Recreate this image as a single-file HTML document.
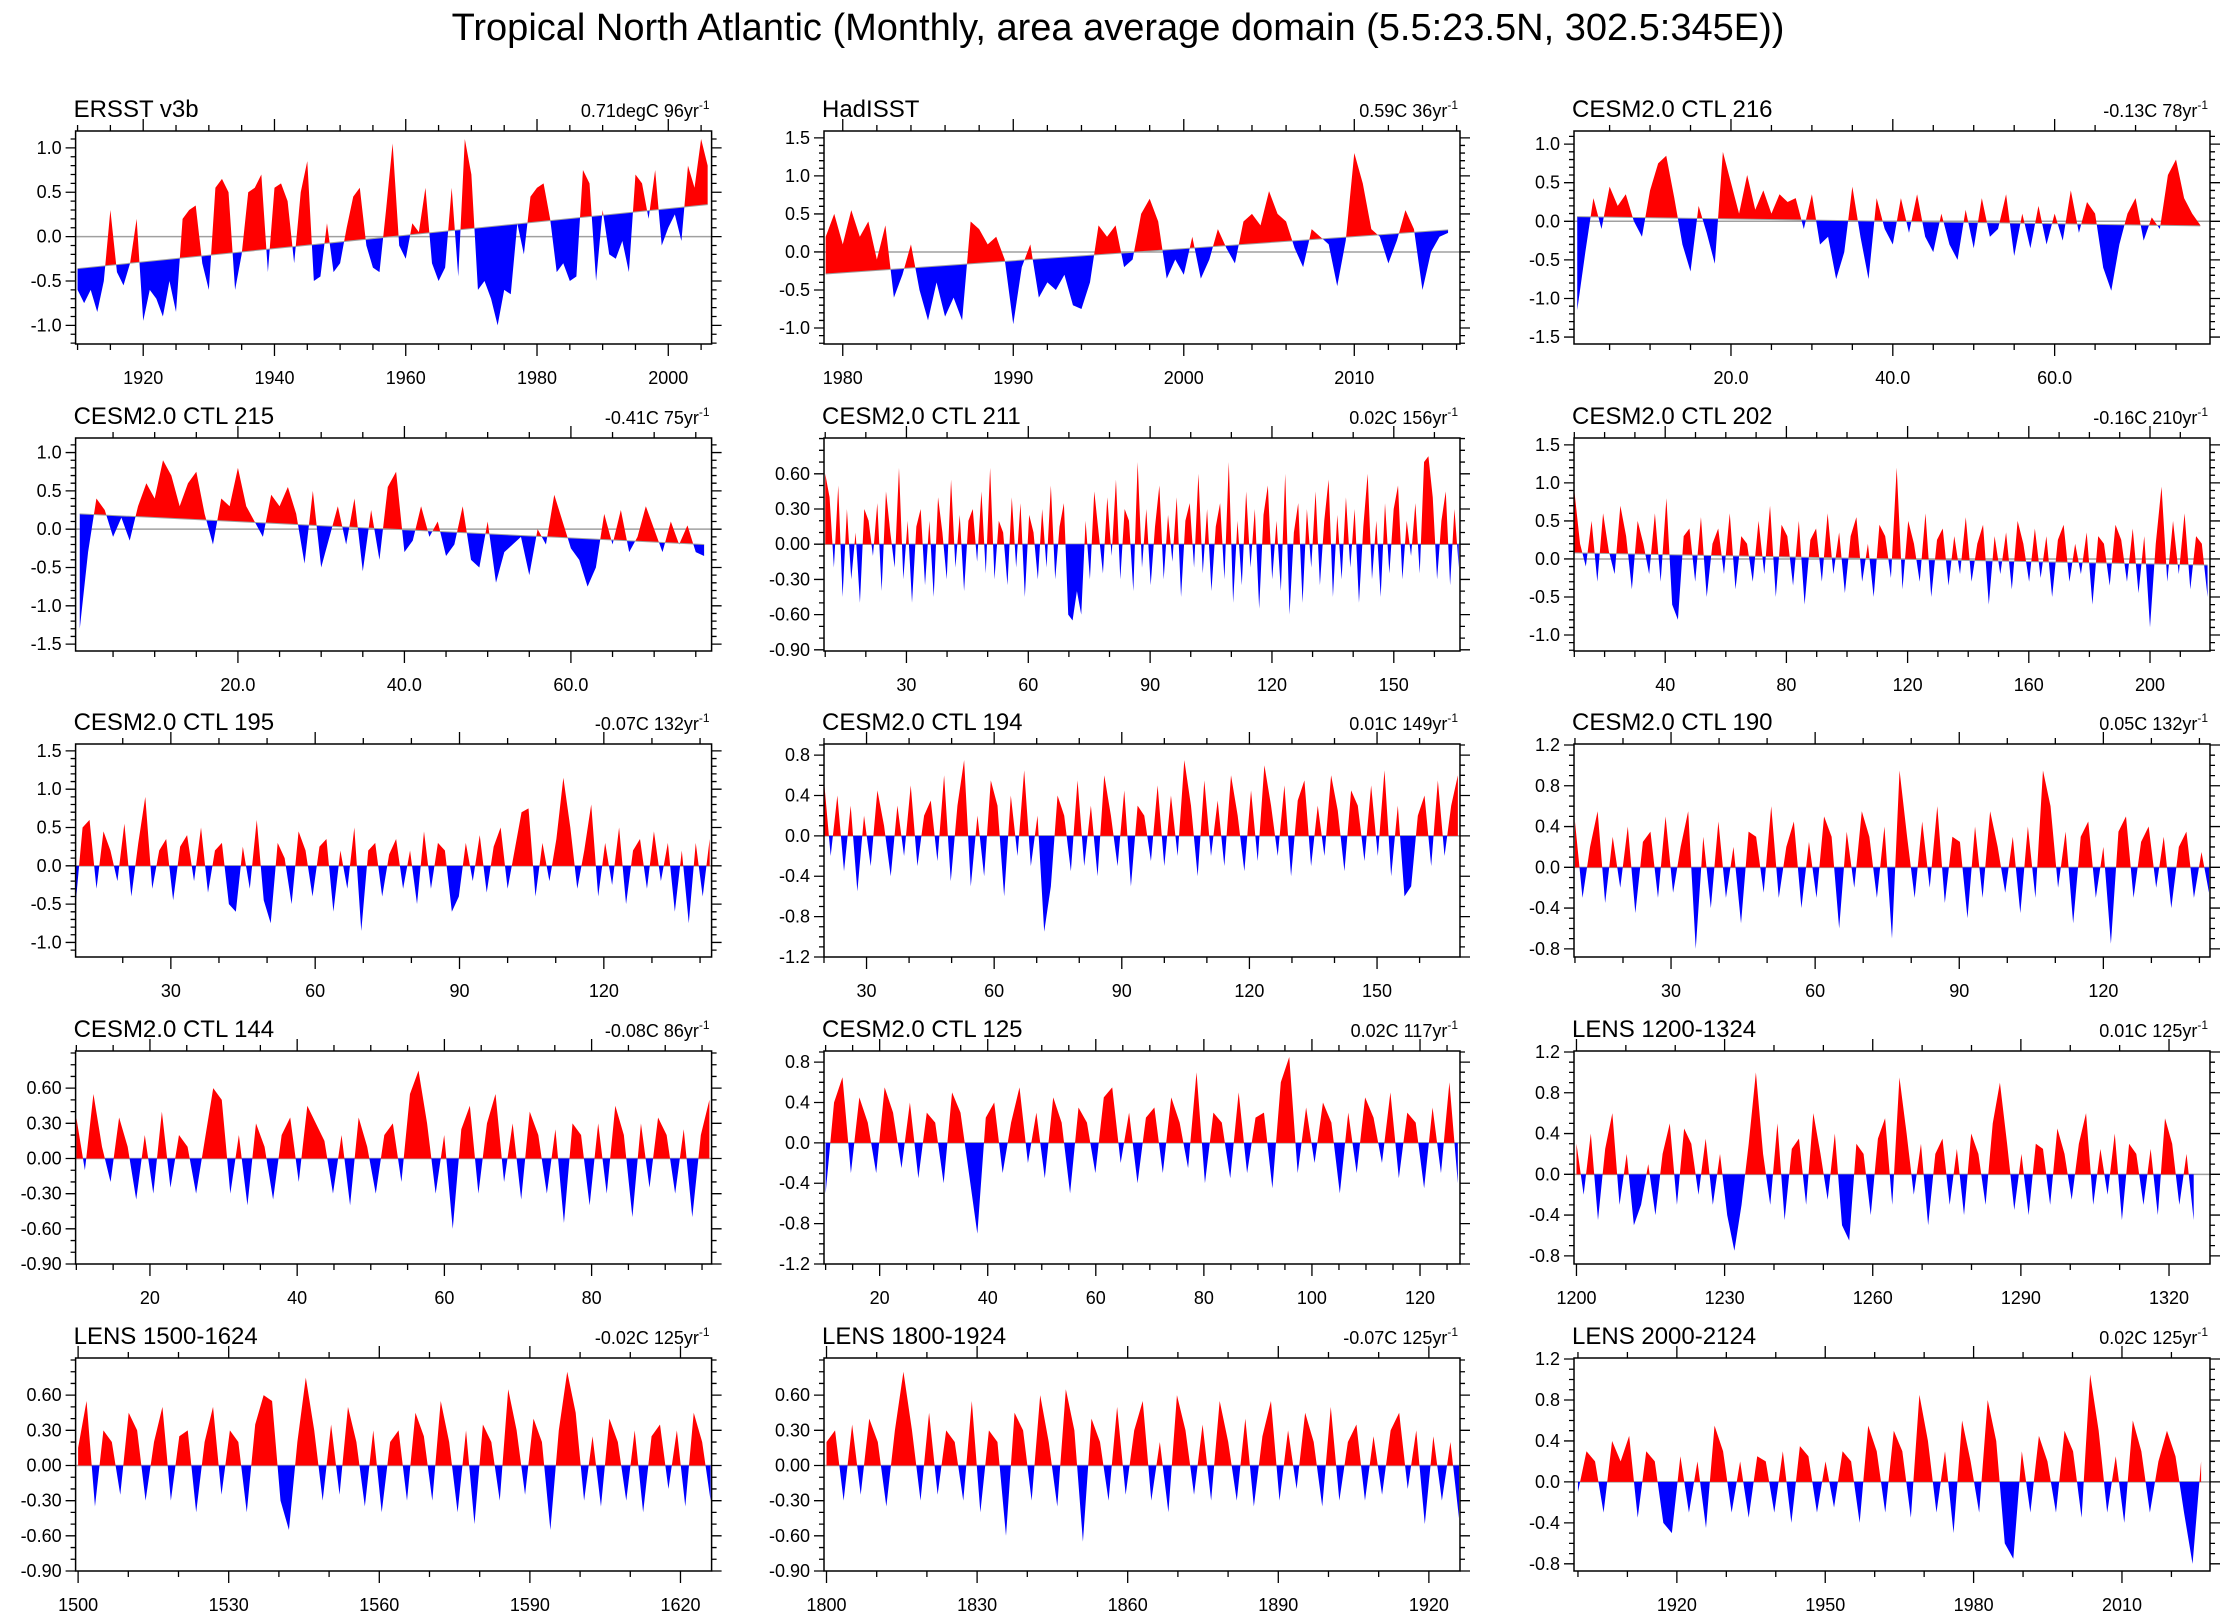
<!DOCTYPE html>
<html><head><meta charset="utf-8">
<style>
html,body{margin:0;padding:0;background:#fff;}
svg{display:block;font-family:"Liberation Sans",Arial,sans-serif;}
</style></head>
<body>
<svg id="fig" width="2236" height="1620" viewBox="0 0 2236 1620">
<text x="1118" y="40" text-anchor="middle" font-size="38">Tropical North Atlantic (Monthly, area average domain (5.5:23.5N, 302.5:345E))</text>
</svg>
<script>
// ---- data: values per panel ----
const p1Values=[-0.6,-0.75,-0.6,-0.85,-0.5,0.3,-0.4,-0.55,-0.3,0.2,-0.95,-0.6,-0.7,-0.9,-0.5,-0.85,0.2,0.3,0.35,-0.3,-0.6,0.55,0.65,0.5,-0.6,-0.2,0.5,0.55,0.7,-0.4,0.55,0.6,0.4,-0.3,0.5,0.85,-0.5,-0.45,0.15,-0.4,-0.3,0.1,0.45,0.55,-0.1,-0.35,-0.4,0.3,1.05,-0.1,-0.25,0.15,0.05,0.55,-0.3,-0.5,-0.35,0.55,-0.45,1.1,0.7,-0.6,-0.5,-0.7,-1.0,-0.6,-0.65,0.15,-0.2,0.45,0.55,0.6,0.2,-0.4,-0.3,-0.5,-0.45,0.75,0.6,-0.5,0.3,-0.2,-0.25,-0.05,-0.4,0.7,0.6,0.2,0.75,-0.1,0.1,0.25,-0.05,0.8,0.55,1.1,0.8];
const p2Values=[0.2,0.5,0.1,0.55,0.2,0.4,-0.1,0.35,-0.6,-0.3,0.1,-0.5,-0.9,-0.4,-0.85,-0.6,-0.9,0.4,0.3,0.1,0.2,-0.1,-0.95,-0.2,0.1,-0.6,-0.4,-0.5,-0.3,-0.7,-0.75,-0.4,0.35,0.2,0.35,-0.2,-0.1,0.5,0.7,0.4,-0.35,-0.1,-0.3,0.2,-0.35,-0.1,0.3,0.05,-0.15,0.4,0.5,0.35,0.8,0.5,0.4,0.05,-0.2,0.3,0.2,0.1,-0.45,0.15,1.3,0.9,0.3,0.2,-0.15,0.15,0.55,0.3,-0.5,0.0,0.2,0.25];
const p3Values=[-1.15,-0.4,0.3,-0.1,0.45,0.2,0.35,0.0,-0.2,0.4,0.75,0.85,0.3,-0.3,-0.65,0.2,-0.15,-0.55,0.9,0.5,0.1,0.6,0.15,0.4,0.1,0.35,0.25,0.3,-0.1,0.35,-0.3,-0.2,-0.75,-0.4,0.45,-0.2,-0.75,0.3,-0.1,-0.3,0.3,-0.15,0.35,-0.2,-0.4,0.1,-0.3,-0.5,0.15,-0.35,0.3,-0.2,-0.1,0.35,-0.45,0.1,-0.35,0.2,-0.3,0.1,-0.25,0.4,-0.15,0.25,0.1,-0.6,-0.9,-0.3,0.1,0.3,-0.25,0.05,-0.1,0.6,0.8,0.3,0.1,-0.05];
const p4Values=[-1.3,-0.3,0.4,0.25,-0.1,0.15,-0.15,0.3,0.6,0.4,0.9,0.7,0.3,0.6,0.75,0.2,-0.2,0.4,0.3,0.8,0.3,0.1,-0.1,0.45,0.3,0.55,0.2,-0.45,0.5,-0.5,-0.1,0.3,-0.2,0.4,-0.55,0.25,-0.4,0.55,0.75,-0.3,-0.15,0.3,-0.1,0.1,-0.35,-0.2,0.3,-0.4,-0.5,0.1,-0.7,-0.3,-0.2,-0.1,-0.6,0.0,-0.2,0.45,0.1,-0.25,-0.4,-0.75,-0.5,0.2,-0.2,0.25,-0.3,-0.1,0.3,0.0,-0.3,0.1,-0.2,0.05,-0.3,-0.35];
const p5Values=[0.6,0.4,-0.2,0.5,-0.45,0.3,-0.3,0.1,-0.5,0.3,0.2,-0.1,0.35,-0.4,0.45,0.1,-0.2,0.65,-0.3,0.2,-0.5,0.15,0.3,-0.35,0.2,-0.45,0.4,0.1,-0.3,0.55,-0.2,0.25,-0.4,0.2,0.3,-0.15,0.45,-0.25,0.65,-0.3,0.2,0.1,-0.35,0.4,-0.2,0.35,-0.45,0.25,0.1,-0.3,0.3,-0.2,0.5,-0.3,0.15,0.35,-0.6,-0.65,-0.4,-0.6,0.2,-0.3,0.45,0.1,-0.25,0.4,-0.1,0.55,-0.3,0.3,0.2,-0.4,0.7,-0.2,0.3,-0.35,0.15,0.5,-0.3,0.25,-0.15,0.4,-0.45,0.2,0.35,-0.2,0.6,-0.25,0.3,-0.4,0.15,0.35,-0.3,0.7,-0.5,0.2,-0.35,0.45,-0.2,0.3,-0.55,0.25,0.5,-0.3,0.2,-0.4,0.6,-0.6,0.1,0.35,-0.5,0.3,-0.2,0.45,-0.35,0.2,0.55,-0.45,0.25,-0.3,0.4,-0.2,0.3,-0.5,0.15,0.6,-0.3,0.2,-0.45,0.35,-0.25,0.3,0.5,-0.3,0.2,-0.1,0.35,-0.25,0.7,0.75,0.4,-0.3,0.2,0.45,-0.35,0.3,-0.2];
const p6Values=[0.9,0.2,-0.1,0.5,-0.3,0.6,0.1,-0.2,0.7,0.3,-0.4,0.5,0.2,-0.2,0.6,-0.3,0.8,-0.6,-0.8,0.3,0.4,-0.3,0.55,-0.5,0.2,0.4,-0.2,0.6,-0.4,0.3,0.2,-0.3,0.5,-0.2,0.7,-0.5,0.45,0.3,-0.35,0.5,-0.6,0.25,0.4,-0.3,0.6,-0.2,0.35,-0.45,0.3,0.55,-0.3,0.2,-0.5,0.45,0.3,-0.25,1.2,-0.4,0.5,0.2,-0.3,0.6,-0.5,0.25,0.4,-0.35,0.3,-0.2,0.55,-0.3,0.2,0.45,-0.6,0.3,-0.2,0.35,-0.4,0.5,0.2,-0.3,0.4,-0.25,0.3,-0.5,0.25,0.45,-0.3,0.2,-0.2,0.35,-0.6,0.3,0.2,-0.35,0.45,0.25,-0.3,0.4,-0.45,0.3,-0.9,0.2,0.95,-0.3,0.5,-0.2,0.6,-0.4,0.3,0.2,-0.5];
const p7Values=[-0.5,0.5,0.6,-0.3,0.45,0.2,-0.2,0.55,-0.4,0.3,0.9,-0.3,0.2,0.35,-0.45,0.25,0.4,-0.2,0.5,-0.35,0.2,0.3,-0.5,-0.6,0.25,-0.3,0.6,-0.45,-0.75,0.3,0.1,-0.5,0.45,0.2,-0.4,0.25,0.35,-0.6,0.2,-0.3,0.5,-0.85,0.2,0.3,-0.4,0.15,0.35,-0.3,0.2,-0.5,0.45,-0.3,0.3,0.2,-0.6,-0.4,0.3,-0.2,0.4,-0.35,0.25,0.5,-0.3,0.2,0.7,0.75,-0.4,0.3,-0.2,0.35,1.15,0.5,-0.3,0.2,0.8,-0.4,0.3,-0.25,0.5,-0.5,0.2,0.35,-0.3,0.45,-0.2,0.3,-0.6,0.2,-0.75,0.3,-0.4,0.35];
const p8Values=[0.55,-0.2,0.4,-0.35,0.3,-0.55,0.2,-0.3,0.45,0.1,-0.4,0.3,-0.2,0.5,-0.3,0.2,0.35,-0.25,0.6,-0.45,0.3,0.75,-0.5,0.2,-0.4,0.55,0.3,-0.6,0.4,-0.2,0.65,-0.3,0.2,-0.95,-0.5,0.4,0.2,-0.35,0.55,-0.3,0.3,-0.4,0.6,0.2,-0.3,0.45,-0.5,0.3,0.2,-0.25,0.5,-0.3,0.4,-0.2,0.75,0.3,-0.4,0.55,-0.2,0.35,-0.3,0.6,0.2,-0.35,0.45,-0.25,0.7,0.3,-0.2,0.5,-0.4,0.35,0.55,-0.3,0.3,-0.2,0.6,0.25,-0.35,0.45,0.3,-0.25,0.5,-0.2,0.65,-0.4,0.3,-0.6,-0.5,0.2,0.4,-0.3,0.55,-0.2,0.3,0.6];
const p9Values=[0.45,-0.3,0.2,0.55,-0.35,0.3,-0.2,0.4,-0.45,0.25,0.35,-0.3,0.5,-0.25,0.2,0.55,-0.8,0.3,-0.4,0.45,-0.3,0.2,-0.55,0.35,0.3,-0.25,0.6,-0.3,0.2,0.45,-0.4,0.25,-0.3,0.5,0.3,-0.6,0.35,-0.2,0.55,0.3,-0.3,0.4,-0.7,0.95,0.3,-0.3,0.45,-0.2,0.6,-0.35,0.3,0.25,-0.5,0.4,-0.3,0.55,0.2,-0.25,0.3,-0.45,0.4,-0.3,0.95,0.6,-0.2,0.35,-0.55,0.3,0.45,-0.3,0.2,-0.75,0.35,0.5,-0.3,0.25,0.4,-0.2,0.3,-0.4,0.2,0.35,-0.3,0.15,-0.25];
const p10Values=[0.35,-0.1,0.55,0.1,-0.2,0.35,0.1,-0.35,0.2,-0.3,0.4,-0.25,0.2,0.1,-0.3,0.15,0.6,0.5,-0.3,0.2,-0.4,0.3,0.1,-0.35,0.2,0.35,-0.2,0.45,0.3,0.15,-0.3,0.2,-0.4,0.35,0.1,-0.3,0.2,0.3,-0.2,0.55,0.75,0.3,-0.3,0.2,-0.6,0.25,0.45,-0.3,0.3,0.55,-0.2,0.3,-0.35,0.4,0.2,-0.3,0.25,-0.55,0.3,0.2,-0.4,0.3,-0.3,0.45,0.2,-0.5,0.3,-0.25,0.35,0.2,-0.3,0.25,-0.5,0.2,0.5];
const p11Values=[-0.5,0.4,0.65,-0.3,0.45,0.2,-0.3,0.55,0.3,-0.25,0.4,-0.35,0.3,0.2,-0.4,0.5,0.3,-0.3,-0.9,0.25,0.4,-0.3,0.2,0.55,-0.2,0.3,-0.35,0.45,0.2,-0.5,0.35,0.2,-0.3,0.45,0.55,-0.2,0.3,-0.4,0.25,0.35,-0.3,0.45,0.2,-0.25,0.7,-0.4,0.3,0.2,-0.35,0.5,-0.3,0.25,0.3,-0.45,0.6,0.85,-0.3,0.35,-0.2,0.4,0.2,-0.5,0.3,-0.3,0.45,0.25,-0.2,0.5,-0.35,0.3,0.2,-0.45,0.35,-0.3,0.6,-0.4];
const p12Values=[0.3,-0.2,0.4,-0.45,0.25,0.6,-0.3,0.2,-0.5,-0.3,0.1,-0.4,0.2,0.5,-0.3,0.45,0.3,-0.2,0.35,-0.3,0.2,-0.4,-0.75,-0.3,0.3,1.0,0.2,-0.3,0.5,-0.45,0.25,0.35,-0.3,0.6,0.2,-0.25,0.4,-0.5,-0.65,0.3,0.2,-0.4,0.35,0.55,-0.3,0.95,0.4,-0.2,0.3,-0.5,0.2,0.35,-0.3,0.25,-0.4,0.4,0.2,-0.3,0.5,0.9,0.3,-0.35,0.2,-0.4,0.3,0.25,-0.3,0.45,0.2,-0.25,0.3,0.6,-0.3,0.25,-0.2,0.4,-0.45,0.3,0.2,-0.3,0.25,-0.4,0.55,0.3,-0.3,0.2,-0.45];
const p13Values=[0.15,0.55,-0.35,0.3,0.2,-0.25,0.45,0.3,-0.3,0.2,0.5,-0.3,0.25,0.3,-0.4,0.2,0.5,-0.25,0.3,0.2,-0.4,0.35,0.6,0.55,-0.3,-0.55,0.2,0.75,0.3,-0.3,0.35,-0.25,0.5,0.2,-0.35,0.3,-0.4,0.2,0.3,-0.3,0.45,0.25,-0.3,0.55,0.2,-0.4,0.3,-0.5,0.35,0.2,-0.3,0.65,0.3,-0.25,0.4,0.2,-0.55,0.3,0.8,0.45,-0.3,0.25,-0.35,0.4,0.2,-0.3,0.3,-0.4,0.25,0.35,-0.2,0.3,-0.35,0.45,0.2,-0.3];
const p14Values=[0.2,0.3,-0.3,0.35,-0.25,0.4,0.2,-0.35,0.3,0.8,0.3,-0.3,0.45,-0.25,0.3,0.2,-0.3,0.55,-0.4,0.3,0.2,-0.6,0.45,0.3,-0.3,0.6,0.2,-0.35,0.65,0.3,-0.65,0.4,0.2,-0.3,0.5,-0.25,0.3,0.55,-0.3,0.2,-0.4,0.6,0.3,-0.25,0.35,-0.3,0.55,0.2,-0.3,0.4,-0.35,0.25,0.55,-0.3,0.3,-0.2,0.45,0.2,-0.35,0.5,-0.3,0.2,0.35,-0.3,0.25,-0.25,0.3,0.45,-0.2,0.3,-0.5,0.25,-0.3,0.2,-0.45];
const p15Values=[-0.1,0.3,0.2,-0.3,0.4,0.2,0.45,-0.35,0.3,0.2,-0.4,-0.5,0.25,-0.3,0.2,-0.45,0.55,0.3,-0.3,0.2,-0.35,0.25,0.2,-0.3,0.3,-0.4,0.35,0.25,-0.3,0.2,-0.25,0.3,0.2,-0.4,0.55,0.3,-0.3,0.5,0.3,-0.35,0.85,0.4,-0.3,0.3,-0.5,0.6,0.2,-0.3,0.8,0.4,-0.6,-0.75,0.3,-0.3,0.45,0.2,-0.3,0.5,0.3,-0.35,1.05,0.5,-0.3,0.25,-0.4,0.6,0.3,-0.3,0.2,0.5,0.25,-0.3,-0.8,0.2];
// time span of each series [first, last]
const seriesSpans=[[1910,2006],[1979,2015.5],[1,78],[1,76],[10,166],[10,219],[10.2,142],[20,169],[10,142],[10,96],[10,127],[1200,1325],[1500,1626],[1800,1926],[1900,2026]];
// trend reference line [start, end]
const trendLines=[[-0.36,0.36],[-0.29,0.29],[0.06,-0.06],[0.2,-0.2],[0,0],[0.08,-0.08],[0,0],[0,0],[0,0],[0,0],[0,0],[0,0],[0,0],[0,0],[0,0]];
const panelTitles=["ERSST v3b","HadISST","CESM2.0 CTL 216","CESM2.0 CTL 215","CESM2.0 CTL 211","CESM2.0 CTL 202","CESM2.0 CTL 195","CESM2.0 CTL 194","CESM2.0 CTL 190","CESM2.0 CTL 144","CESM2.0 CTL 125","LENS 1200-1324","LENS 1500-1624","LENS 1800-1924","LENS 2000-2124"];
const trendLabels=["0.71degC 96yr","0.59C 36yr","-0.13C 78yr","-0.41C 75yr","0.02C 156yr","-0.16C 210yr","-0.07C 132yr","0.01C 149yr","0.05C 132yr","-0.08C 86yr","0.02C 117yr","0.01C 125yr","-0.02C 125yr","-0.07C 125yr","0.02C 125yr"];
const xDomains=[[1909.7,2006.6],[1978.9,2016.2],[0.6,79.2],[0.5,76.9],[9.7,166.3],[9.9,219.8],[10.2,142.4],[20,169.5],[9.8,142.2],[9.9,96.3],[9.7,127.4],[1199.5,1328.3],[1499.5,1626.2],[1799.5,1926.2],[1899.2,2027.8]];
const yDomains=[[-1.21,1.19],[-1.21,1.59],[-1.59,1.17],[-1.59,1.19],[-0.91,0.905],[-1.21,1.59],[-1.19,1.59],[-1.2,0.91],[-0.88,1.21],[-0.9,0.917],[-1.2,0.91],[-0.88,1.21],[-0.9,0.917],[-0.9,0.917],[-0.87,1.21]];
const xTickLabels=[["1920","1940","1960","1980","2000"],["1980","1990","2000","2010"],["20.0","40.0","60.0"],["20.0","40.0","60.0"],["30","60","90","120","150"],["40","80","120","160","200"],["30","60","90","120"],["30","60","90","120","150"],["30","60","90","120"],["20","40","60","80"],["20","40","60","80","100","120"],["1200","1230","1260","1290","1320"],["1500","1530","1560","1590","1620"],["1800","1830","1860","1890","1920"],["1920","1950","1980","2010"]];
const xMinorSteps=[5,2,5,5,10,10,10,10,10,5,5,10,10,10,10];
const yTickLabels=[["-1.0","-0.5","0.0","0.5","1.0"],["-1.0","-0.5","0.0","0.5","1.0","1.5"],["-1.5","-1.0","-0.5","0.0","0.5","1.0"],["-1.5","-1.0","-0.5","0.0","0.5","1.0"],["-0.90","-0.60","-0.30","0.00","0.30","0.60"],["-1.0","-0.5","0.0","0.5","1.0","1.5"],["-1.0","-0.5","0.0","0.5","1.0","1.5"],["-1.2","-0.8","-0.4","0.0","0.4","0.8"],["-0.8","-0.4","0.0","0.4","0.8","1.2"],["-0.90","-0.60","-0.30","0.00","0.30","0.60"],["-1.2","-0.8","-0.4","0.0","0.4","0.8"],["-0.8","-0.4","0.0","0.4","0.8","1.2"],["-0.90","-0.60","-0.30","0.00","0.30","0.60"],["-0.90","-0.60","-0.30","0.00","0.30","0.60"],["-0.8","-0.4","0.0","0.4","0.8","1.2"]];
const allValues=[p1Values,p2Values,p3Values,p4Values,p5Values,p6Values,p7Values,p8Values,p9Values,p10Values,p11Values,p12Values,p13Values,p14Values,p15Values];

const NS="http://www.w3.org/2000/svg";
const svg=document.getElementById('fig');
const colLeft=[75.6,824,1574], boxW=636, rowTop=[131,438,744,1051,1358], boxH=213;
function mk(tag,attrs,parent){const e=document.createElementNS(NS,tag);for(const k in attrs)e.setAttribute(k,attrs[k]);(parent||svg).appendChild(e);return e;}
function fmt(n){return n.toFixed(3);}

allValues.forEach((vals,p)=>{
  const L=colLeft[p%3], T=rowTop[Math.floor(p/3)], R=L+boxW, B=T+boxH;
  const [x0,x1]=xDomains[p], [y0,y1]=yDomains[p];
  const sx=v=>L+(v-x0)/(x1-x0)*boxW;
  const sy=v=>B-(v-y0)/(y1-y0)*boxH;
  const g=mk('g',{});
  
  
  const [s0,s1]=seriesSpans[p], [t0,t1]=trendLines[p];
  const n=vals.length;
  const xs=vals.map((v,i)=>s0+(s1-s0)*i/(n-1));
  const ref=x=>t0+(t1-t0)*(x-s0)/(s1-s0);
  let red='',blue='';
  const quad=(a,b,va,vb)=>`M${fmt(sx(a))},${fmt(sy(ref(a)))}L${fmt(sx(a))},${fmt(sy(va))}L${fmt(sx(b))},${fmt(sy(vb))}L${fmt(sx(b))},${fmt(sy(ref(b)))}Z`;
  for(let i=0;i<n-1;i++){
    const a=xs[i],b=xs[i+1],va=vals[i],vb=vals[i+1];
    const da=va-ref(a),db=vb-ref(b);
    if(da>=0&&db>=0)red+=quad(a,b,va,vb);
    else if(da<=0&&db<=0)blue+=quad(a,b,va,vb);
    else{const t=da/(da-db),xm=a+t*(b-a),vm=ref(xm);
      if(da>0){red+=quad(a,xm,va,vm);blue+=quad(xm,b,vm,vb);}
      else{blue+=quad(a,xm,va,vm);red+=quad(xm,b,vm,vb);}}
  }
  // zero line
  const zl=mk('line',{x1:L,x2:R,y1:sy(0),y2:sy(0),stroke:'#a0a0a0','stroke-width':1.5},g);
  
  
  const rp=mk('path',{d:red,fill:'#ff0000',stroke:'none'},g);
  
  
  const bp=mk('path',{d:blue,fill:'#0000ff',stroke:'none'},g);
  
  
  if(t0!==0||t1!==0){
    const tl=mk('line',{x1:sx(s0),x2:sx(s1),y1:sy(t0),y2:sy(t1),stroke:'#a0a0a0','stroke-width':1},g);
    
    
  }
  // box
  const bx=mk('rect',{x:L,y:T,width:boxW,height:boxH,fill:'none',stroke:'#000','stroke-width':1.5},g);
  
  
  // ticks
  let tk='';
  const xl=xTickLabels[p].map(Number), xstep=xl[1]-xl[0], mstep=xMinorSteps[p];
  for(let v=Math.ceil(x0/mstep)*mstep; v<=x1; v+=mstep){
    const X=sx(v), major=Math.abs(((v-xl[0])/xstep)-Math.round((v-xl[0])/xstep))<1e-6;
    const len=major?12:6;
    tk+=`M${fmt(X)},${B}v${len}M${fmt(X)},${T}v${-len}`;
  }
  const yl=yTickLabels[p].map(Number);
  for(let v=Math.ceil(y0*10-1e-6)/10; v<=y1+1e-9; v=Math.round((v+0.1)*10)/10){
    const Y=sy(v), major=yl.some(q=>Math.abs(q-v)<1e-6), len=major?10:5;
    tk+=`M${L},${fmt(Y)}h${-len}M${R},${fmt(Y)}h${len}`;
  }
  const tp=mk('path',{d:tk,stroke:'#000','stroke-width':1.3,fill:'none'},g);
  
  
  xTickLabels[p].forEach(s=>{
    const t=mk('text',{x:sx(Number(s)),y:B+40,'text-anchor':'middle','font-size':18},g);
    t.textContent=s;
    
    
  });
  yTickLabels[p].forEach(s=>{
    const t=mk('text',{x:L-14,y:sy(Number(s))+6,'text-anchor':'end','font-size':18},g);
    t.textContent=s;
    
    
  });
  const ti=mk('text',{x:L-2,y:T-14,'font-size':24},g);
  ti.textContent=panelTitles[p];
  
  
  const tr=mk('text',{x:R-2,y:T-14,'text-anchor':'end','font-size':18},g);
  tr.textContent=trendLabels[p];
  const sup=mk('tspan',{dy:-8,'font-size':12},tr);
  sup.textContent='-1';
  
  
});
</script>
</body></html>
